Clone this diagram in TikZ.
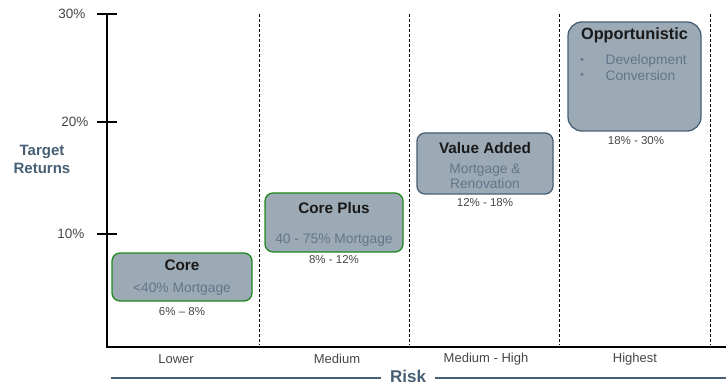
\documentclass[tikz,border=0pt]{standalone}
\usepackage{fontspec}
\setmainfont{Liberation Sans}
\usetikzlibrary{positioning}
\definecolor{boxfill}{RGB}{156,170,181}
\definecolor{greenline}{RGB}{30,136,30}
\definecolor{slate}{RGB}{70,95,116}
\definecolor{subtext}{RGB}{98,118,138}
\definecolor{labgray}{RGB}{70,70,70}
\tikzset{
  fund/.style={draw, line width=1.3pt, fill=boxfill, rounded corners=8pt, inner sep=0pt},
  fundtitle/.style={font=\bfseries\fontsize{15.3}{17}\selectfont, text=black!90},
  fundsub/.style={font=\fontsize{13.8}{15}\selectfont, text=subtext},
  pctlab/.style={font=\fontsize{11.5}{13}\selectfont, text=labgray},
  ticklab/.style={font=\fontsize{13.5}{15}\selectfont, text=labgray, anchor=east},
  risklab/.style={font=\fontsize{13}{15}\selectfont, text=labgray},
  divider/.style={dash pattern=on 3pt off 2pt, line width=0.9pt}
}
\begin{document}
\begin{tikzpicture}[x=1pt,y=-1pt,line cap=butt]
	\useasboundingbox (0,0) rectangle (726,385);
	\path
	(107,14) coordinate (top)
	(107,347) coordinate (O)
	(726,347) coordinate (xend);
	% axes and ticks
	\draw[line width=2.4pt] (top)--(O)--(xend);
	\foreach \yy/\lab/\xx in {14/30/89, 122/20/92, 234/10/88}{
		\draw[line width=2.4pt] (97,\yy)--(117,\yy);
		\node[ticklab] at (\xx,\yy) {\lab\%};
	}
	% risk bands
	\foreach \xx in {259,409,559,710}
		\draw[divider] (\xx,14)--(\xx,345);
	\node[risklab] (lower) at (176,359) {Lower};
	\node[risklab] (medium) at (337,359) {Medium};
	\node[risklab] (medhigh) at (486,359) {Medium - High};
	\node[risklab] (highest) at (635,359) {Highest};
	% axis titles
	\node[font=\bfseries\fontsize{15}{18}\selectfont, text=slate, align=center] (ret) at (42,159) {Target\\Returns};
	\node[font=\bfseries\fontsize{17}{19}\selectfont, text=slate, inner xsep=9pt, inner ysep=0pt] (risk) at (408,376.5) {Risk};
	\coordinate (rl) at (111,378);
	\coordinate (rr) at (726,378);
	\draw[slate, line width=2.8pt] (rl)--(risk.west|-rl);
	\draw[slate, line width=2.8pt] (risk.east|-rr)--(rr);
	% funds
	\node[fund, draw=greenline, minimum width=140pt, minimum height=48pt] (core) at (182,277) {};
	\node[fundtitle] (coret) at (182,265) {Core};
	\node[fundsub] (cores) at (182,289) {<40\% Mortgage};
	\node[pctlab] (corer) at (182,312) {6\% – 8\%};

	\node[fund, draw=greenline, minimum width=138pt, minimum height=59pt] (plus) at (334,222.5) {};
	\node[fundtitle] (plust) at (334,208) {Core Plus};
	\node[fundsub] (pluss) at (334,240) {40 - 75\% Mortgage};
	\node[pctlab] (plusr) at (334,260) {8\% - 12\%};

	\node[fund, draw=slate, minimum width=136pt, minimum height=61pt] (value) at (485,163.5) {};
	\node[fundtitle] (valuet) at (485,148) {Value Added};
	\node[fundsub, align=center] (values) at (485,176.5) {Mortgage \&\\Renovation};
	\node[pctlab] (valuer) at (485,203) {12\% - 18\%};

	\node[fund, draw=slate, rounded corners=14pt, minimum width=133pt, minimum height=109pt] (opp) at (634.5,76.5) {};
	\node[fundtitle, font=\bfseries\fontsize{16.3}{18}\selectfont] (oppt) at (634.5,35) {Opportunistic};
	\node[fundsub, anchor=west] (opp1) at (602,61) {Development};
	\node[fundsub, anchor=west] (opp2) at (602,76) {Conversion};
	\node[fundsub, font=\fontsize{11}{12}\selectfont] at (582,61) {•};
	\node[fundsub, font=\fontsize{11}{12}\selectfont] at (582,76) {•};
	\node[pctlab] (oppr) at (636,141) {18\% - 30\%};
\end{tikzpicture}
\end{document}
